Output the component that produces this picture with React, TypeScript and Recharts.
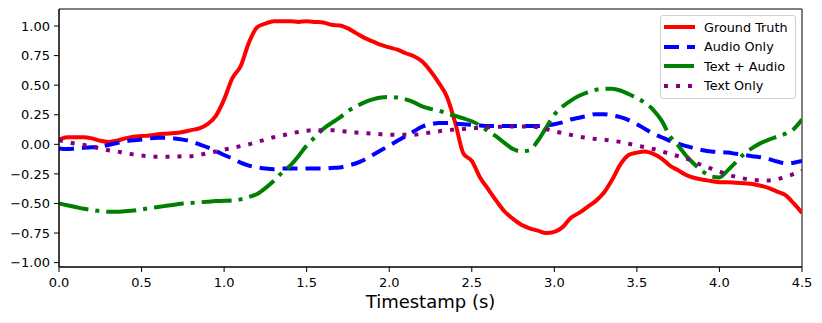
import { LineChart, Line, XAxis, YAxis, ReferenceArea } from 'recharts'

const timestamps = [
  0.0, 0.05, 0.1, 0.15, 0.2, 0.25, 0.3, 0.35, 0.4, 0.45,
  0.5, 0.55, 0.6, 0.65, 0.7, 0.75, 0.8, 0.85, 0.9, 0.95,
  1.0, 1.05, 1.1, 1.15, 1.2, 1.25, 1.3, 1.35, 1.4, 1.45,
  1.5, 1.55, 1.6, 1.65, 1.7, 1.75, 1.8, 1.85, 1.9, 1.95,
  2.0, 2.05, 2.1, 2.15, 2.2, 2.25, 2.3, 2.35, 2.4, 2.45,
  2.5, 2.55, 2.6, 2.65, 2.7, 2.75, 2.8, 2.85, 2.9, 2.95,
  3.0, 3.05, 3.1, 3.15, 3.2, 3.25, 3.3, 3.35, 3.4, 3.45,
  3.5, 3.55, 3.6, 3.65, 3.7, 3.75, 3.8, 3.85, 3.9, 3.95,
  4.0, 4.05, 4.1, 4.15, 4.2, 4.25, 4.3, 4.35, 4.4, 4.45,
  4.5,
]

const groundTruth = [
  0.04, 0.06, 0.06, 0.06, 0.05, 0.03, 0.02, 0.03, 0.05, 0.065,
  0.07, 0.075, 0.085, 0.09, 0.095, 0.105, 0.12, 0.135, 0.17, 0.24,
  0.38, 0.56, 0.66, 0.86, 0.99, 1.02, 1.04, 1.04, 1.04, 1.035,
  1.04, 1.035, 1.03, 1.01, 1.005, 0.98, 0.94, 0.9, 0.87, 0.84,
  0.82, 0.8, 0.77, 0.745, 0.7, 0.62, 0.52, 0.4, 0.18, -0.08,
  -0.14, -0.28, -0.38, -0.48, -0.57, -0.63, -0.68, -0.71, -0.73, -0.75,
  -0.74, -0.7, -0.62, -0.58, -0.53, -0.48, -0.41, -0.3, -0.17, -0.09,
  -0.07, -0.06, -0.08, -0.12, -0.18, -0.22, -0.26, -0.285, -0.3, -0.31,
  -0.32, -0.32, -0.325, -0.33, -0.335, -0.35, -0.37, -0.4, -0.43, -0.5,
  -0.58,
]

const audioOnly = [
  -0.035, -0.04, -0.035, -0.03, -0.025, -0.02, -0.005, 0.01, 0.025, 0.035,
  0.04, 0.05, 0.055, 0.055, 0.05, 0.04, 0.025, 0.0, -0.025, -0.055,
  -0.09, -0.12, -0.155, -0.18, -0.195, -0.205, -0.21, -0.205, -0.205, -0.205,
  -0.205, -0.205, -0.205, -0.2, -0.195, -0.18, -0.16, -0.13, -0.09, -0.05,
  -0.01, 0.03, 0.07, 0.11, 0.15, 0.17, 0.18, 0.18, 0.175, 0.17,
  0.165, 0.16, 0.155, 0.155, 0.155, 0.155, 0.155, 0.155, 0.155, 0.16,
  0.17, 0.185, 0.21, 0.225, 0.24, 0.255, 0.255, 0.245, 0.23, 0.205,
  0.17, 0.13, 0.09, 0.06, 0.03, 0.005, -0.015, -0.035, -0.05, -0.06,
  -0.065, -0.07, -0.08, -0.09, -0.1, -0.11, -0.125, -0.145, -0.16, -0.155,
  -0.14,
]

const textAudio = [
  -0.5, -0.515, -0.53, -0.545, -0.555, -0.565, -0.57, -0.57, -0.565, -0.56,
  -0.55, -0.54, -0.53, -0.52, -0.51, -0.5, -0.495, -0.49, -0.485, -0.48,
  -0.478, -0.475, -0.465, -0.445, -0.42, -0.37, -0.31, -0.24, -0.18, -0.1,
  -0.01, 0.06, 0.13, 0.18, 0.225, 0.28, 0.32, 0.355, 0.38, 0.395,
  0.4, 0.395, 0.38, 0.355, 0.32, 0.3, 0.285, 0.26, 0.24, 0.22,
  0.195, 0.16, 0.11, 0.065, 0.01, -0.04, -0.06, -0.05, 0.03, 0.14,
  0.25, 0.32, 0.37, 0.41, 0.44, 0.46, 0.47, 0.47, 0.455, 0.425,
  0.39, 0.35, 0.29, 0.2, 0.07, -0.01, -0.1, -0.17, -0.23, -0.27,
  -0.28, -0.22, -0.15, -0.08, -0.03, 0.01, 0.04, 0.065, 0.09, 0.13,
  0.21,
]

const textOnly = [
  0.035, 0.02, 0.005, -0.005, -0.02, -0.035, -0.05, -0.06, -0.075, -0.085,
  -0.095, -0.1, -0.105, -0.105, -0.105, -0.1, -0.1, -0.09, -0.075, -0.06,
  -0.045, -0.03, -0.015, 0.0, 0.02, 0.04, 0.06, 0.075, 0.09, 0.105,
  0.115, 0.12, 0.12, 0.12, 0.115, 0.105, 0.1, 0.095, 0.09, 0.085,
  0.08, 0.08, 0.08, 0.08, 0.09, 0.1, 0.11, 0.12, 0.125, 0.13,
  0.135, 0.14, 0.145, 0.148, 0.15, 0.15, 0.15, 0.15, 0.145, 0.13,
  0.11, 0.095, 0.08, 0.065, 0.055, 0.045, 0.04, 0.03, 0.02, 0.005,
  -0.01, -0.025, -0.04, -0.06, -0.08, -0.1, -0.12, -0.15, -0.18, -0.205,
  -0.23, -0.255, -0.275, -0.29, -0.3, -0.305, -0.305, -0.295, -0.275, -0.25,
  -0.22,
]

const xTicks = [0, 0.5, 1, 1.5, 2, 2.5, 3, 3.5, 4, 4.5]
const yTicks = [-1, -0.75, -0.5, -0.25, 0, 0.25, 0.5, 0.75, 1]

const series = [
  { key: 'gt', name: 'Ground Truth', color: '#ff0000', dash: undefined },
  { key: 'audio', name: 'Audio Only', color: '#0000ff', dash: '15 8' },
  { key: 'textAudio', name: 'Text + Audio', color: '#008000', dash: '30 7 4 7' },
  { key: 'text', name: 'Text Only', color: '#800080', dash: '4 8' },
]

const data = timestamps.map((t, i) => ({
  t,
  gt: groundTruth[i],
  audio: audioOnly[i],
  textAudio: textAudio[i],
  text: textOnly[i],
}))

const FONT = '"DejaVu Sans", sans-serif'
const Y_MIN = -1.037
const Y_MAX = 1.144

const fmtY = (v: number) => v.toFixed(2).replace('-', '\u2212')

function LegendBox() {
  return (
    <div
      style={{
        position: 'absolute',
        left: 660,
        top: 15,
        width: 134,
        height: 82,
        border: '1px solid #d0d0d0',
        borderRadius: 3,
        background: 'rgba(255,255,255,0.8)',
        fontFamily: FONT,
        fontSize: 12.8,
        color: '#000',
      }}
    >
      {series.map((s, i) => (
        <div
          key={s.key}
          style={{ position: 'absolute', left: 3, top: 1 + i * 19.6, height: 20, display: 'flex', alignItems: 'center' }}
        >
          <svg width={31} height={8} style={{ display: 'block' }}>
            <line x1={0} y1={4} x2={31} y2={4} stroke={s.color} strokeWidth={4} strokeDasharray={s.dash} />
          </svg>
          <span style={{ marginLeft: 9, whiteSpace: 'nowrap' }}>{s.name}</span>
        </div>
      ))}
    </div>
  )
}

export default function App() {
  return (
    <div style={{ position: 'absolute', left: 0, top: 0, width: 822, height: 323, background: '#fff' }}>
      <LineChart width={822} height={323} data={data} margin={{ top: 9, right: 20, left: 0, bottom: 0 }}>
        <XAxis
          dataKey="t"
          type="number"
          domain={[0, 4.5]}
          ticks={xTicks}
          tickFormatter={(v: number) => v.toFixed(1)}
          height={56}
          stroke="#000"
          tickSize={5}
          tickMargin={6}
          tick={{ fill: '#000', fontSize: 13, fontFamily: FONT }}
          allowDataOverflow
          label={{
            value: 'Timestamp (s)',
            position: 'insideBottom',
            offset: 15,
            style: { fill: '#000', fontSize: 18, fontFamily: FONT },
          }}
        />
        <YAxis
          type="number"
          domain={[Y_MIN, Y_MAX]}
          ticks={yTicks}
          tickFormatter={fmtY}
          width={59}
          stroke="#000"
          tickSize={5}
          tickMargin={4}
          tick={{ fill: '#000', fontSize: 13, fontFamily: FONT }}
          allowDataOverflow
        />
        <ReferenceArea x1={0} x2={4.5} y1={Y_MIN} y2={Y_MAX} fill="none" stroke="#000" strokeWidth={1} />
        {series.map((s) => (
          <Line
            key={s.key}
            dataKey={s.key}
            name={s.name}
            type="monotone"
            stroke={s.color}
            strokeWidth={4}
            strokeDasharray={s.dash}
            dot={false}
            activeDot={false}
            isAnimationActive={false}
          />
        ))}
      </LineChart>
      <LegendBox />
    </div>
  )
}
